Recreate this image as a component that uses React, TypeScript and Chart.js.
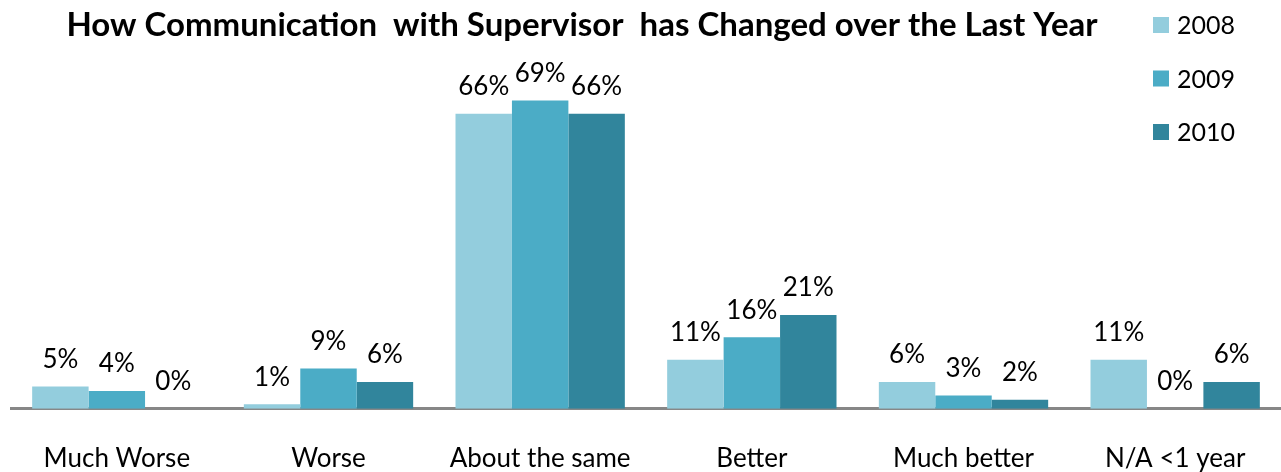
import React, { useEffect, useRef } from "react";
import { Chart, registerables } from "chart.js";

Chart.register(...registerables);

const TITLE = "How Communication  with Supervisor  has Changed over the Last Year";
const categories = ["Much Worse", "Worse", "About the same", "Better", "Much better", "N/A <1 year"];
const seriesNames = ["2008", "2009", "2010"];
const values2008 = [5, 1, 66, 11, 6, 11];
const values2009 = [4, 9, 69, 16, 3, 0];
const values2010 = [0, 6, 66, 21, 2, 6];
const seriesColors = ["#93CDDD", "#4BACC6", "#31859C"];

const FONT = "Lato, 'Open Sans', sans-serif";
const LABEL_SIZE = 26;
const TICK_SIZE = 26;
const LEGEND_SIZE = 25;
const TITLE_SIZE = 33;

const dataLabelPlugin = {
  id: "dataLabels",
  afterDatasetsDraw(chart: any) {
    const ctx = chart.ctx;
    ctx.save();
    ctx.font = `${LABEL_SIZE}px ${FONT}`;
    ctx.fillStyle = "#000";
    ctx.textAlign = "center";
    ctx.textBaseline = "middle";
    chart.data.datasets.forEach((ds: any, i: number) => {
      const meta = chart.getDatasetMeta(i);
      meta.data.forEach((bar: any, j: number) => {
        ctx.fillText(`${ds.data[j]}%`, bar.x, bar.y - 27);
      });
    });
    ctx.restore();
  },
};

const titleLegendPlugin = {
  id: "titleLegend",
  afterDraw(chart: any) {
    const ctx = chart.ctx;
    ctx.save();
    ctx.fillStyle = "#000";
    ctx.textBaseline = "middle";
    ctx.textAlign = "center";
    ctx.font = `bold ${TITLE_SIZE}px ${FONT}`;
    ctx.fillText(TITLE, 582, 25);
    ctx.textAlign = "left";
    ctx.font = `${LEGEND_SIZE}px ${FONT}`;
    chart.data.datasets.forEach((ds: any, i: number) => {
      const cy = 25 + i * 53.5;
      ctx.fillStyle = ds.backgroundColor;
      ctx.fillRect(1153, cy - 8, 16, 16);
      ctx.fillStyle = "#000";
      ctx.fillText(ds.label, 1177, cy + 1);
    });
    ctx.restore();
  },
};

export default function App() {
  const ref = useRef<HTMLCanvasElement>(null);
  useEffect(() => {
    if (!ref.current) return;
    const series = [values2008, values2009, values2010];
    const chart = new Chart(ref.current, {
      type: "bar",
      data: {
        labels: categories,
        datasets: series.map((vals, i) => ({
          label: seriesNames[i],
          data: vals,
          backgroundColor: seriesColors[i],
          borderWidth: 0,
          categoryPercentage: 0.8,
          barPercentage: 1.0,
        })),
      },
      options: {
        responsive: false,
        animation: false,
        layout: { padding: { top: 53, left: 11, right: 0, bottom: -36 } },
        scales: {
          x: {
            z: 1,
            grid: { display: false, drawTicks: false },
            border: { display: true, color: "#878787", width: 3 },
            ticks: {
              color: "#000",
              font: { family: FONT, size: TICK_SIZE },
              padding: 34,
              maxRotation: 0,
              autoSkip: false,
            },
          },
          y: { display: false, min: 0, max: 79.6 },
        },
        plugins: {
          legend: { display: false },
          title: { display: false },
          tooltip: { enabled: false },
        },
      },
      plugins: [dataLabelPlugin, titleLegendPlugin],
    });
    return () => chart.destroy();
  }, []);
  return (
    <div style={{ position: "fixed", left: 0, top: 0, width: 1281, height: 472, background: "#fff" }}>
      <canvas ref={ref} width={1281} height={472} style={{ display: "block" }} />
    </div>
  );
}
